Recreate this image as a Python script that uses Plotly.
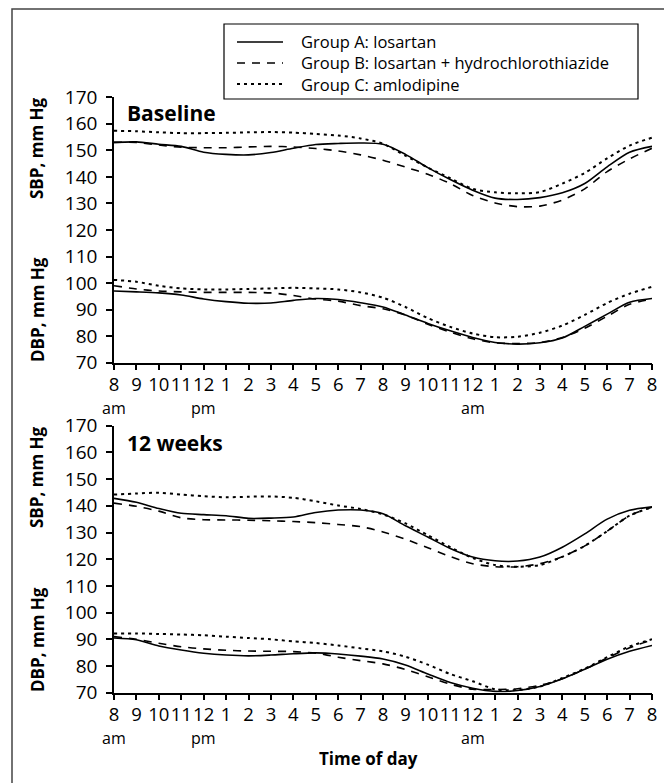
import plotly.graph_objects as go

# ---- data (hours after 8 am) ----
hours = list(range(25))
tick_labels = ["8", "9", "10", "11", "12", "1", "2", "3", "4", "5", "6", "7",
               "8", "9", "10", "11", "12", "1", "2", "3", "4", "5", "6", "7", "8"]
ampm_hours = [0, 4, 16]
ampm_text = ["am", "pm", "am"]

groups = ["Group A: losartan",
          "Group B: losartan + hydrochlorothiazide",
          "Group C: amlodipine"]

# Baseline
base_sbp_a = [153, 153.2, 152.3, 151.5, 149.3, 148.5, 148.3, 149.2, 150.8, 152.2, 152.6, 152.8, 152.3,
              148.5, 143.5, 139, 135, 132, 131.5, 132.2, 134, 137.5, 143.8, 149.3, 151.5]
base_sbp_b = [153, 153, 152, 151.2, 151, 151, 151.3, 151.5, 151.3, 150.7, 149.8, 148.3, 146.3,
              143.7, 141, 137.5, 133, 130.2, 128.8, 129, 131.3, 135.5, 142, 146.8, 150.8]
base_sbp_c = [157.4, 157.2, 156.8, 156.5, 156.5, 156.6, 156.8, 156.9, 156.7, 156.2, 155.6, 154.5, 152.5,
              148, 143.5, 139.5, 135.5, 134.2, 133.8, 134.3, 137.5, 141.5, 147, 151.8, 154.8]
base_dbp_a = [97, 96.7, 96.3, 95.5, 94, 93, 92.4, 92.5, 93.5, 94.2, 93.8, 92.6, 91,
              88, 84.8, 82, 79.5, 77.6, 77, 77.5, 79.3, 83.7, 88.3, 92.8, 94.2]
base_dbp_b = [99, 97.8, 97, 96.7, 96.5, 96.5, 96.5, 96.3, 95.3, 94, 93.2, 91.5, 90.3,
              88, 84.5, 81.5, 79, 77.5, 77.2, 77.6, 79.5, 83, 87.5, 92, 94]
base_dbp_c = [101.2, 100.5, 99, 98, 97.6, 97.6, 97.8, 98, 98.2, 98, 97.6, 96.5, 94.5,
              91, 86.8, 83.5, 81, 79.6, 79.8, 81.3, 84, 88, 92.5, 96, 98.6]

# 12 weeks
wk12_sbp_a = [142.8, 141.3, 139, 137.2, 136.7, 136.3, 135.3, 135.4, 135.8, 137.5, 138.4, 138.4, 137,
              132.5, 128.3, 124, 120.8, 119.4, 119.3, 120.8, 124.5, 129.5, 135, 138.3, 139.6]
wk12_sbp_b = [141, 139.8, 138, 135.5, 134.8, 134.7, 134.6, 134.4, 134.1, 133.7, 133, 132.2, 130.2,
              127.5, 124.3, 121, 118.3, 117.2, 117.2, 118.3, 120.9, 125, 130.5, 136.3, 139.5]
wk12_sbp_c = [144.2, 144.6, 144.9, 144.2, 143.6, 143.2, 143.4, 143.5, 143, 141.7, 140.1, 138.8, 136.8,
              133.4, 129, 124.5, 120.5, 117.8, 117.2, 117.8, 120.9, 125, 130.5, 136.3, 139.5]
wk12_dbp_a = [90.5, 89.8, 87.5, 86, 84.8, 84.1, 83.8, 84.1, 84.6, 84.9, 84.5, 83.7, 82.6,
              80.4, 77, 73.8, 71.7, 70.5, 70.8, 72.3, 75.2, 78.8, 82.5, 85.5, 87.7]
wk12_dbp_b = [91, 90, 88.5, 87.2, 86.4, 85.9, 85.6, 85.5, 85.4, 84.8, 83.3, 82, 80.8,
              78.7, 76, 73.2, 71.3, 71.2, 71.5, 72.8, 75.2, 78.8, 83, 86.8, 89.8]
wk12_dbp_c = [92.2, 92.2, 92, 91.8, 91.5, 91, 90.5, 90, 89.2, 88.6, 87.7, 86.6, 85.5,
              83.5, 80.5, 77, 74.3, 71.3, 71, 72.3, 75.5, 79, 83.3, 87.3, 90]

# ---- layout geometry ----
# The page body has an 8px margin, so the figure is drawn 8px smaller and all
# target positions below are given in window pixels and shifted by OFF.
OFF = 8
WIN_W, WIN_H = 672, 783
W, H = WIN_W - OFF, WIN_H - OFF
PLOT_L, PLOT_R, PAPER_T, PAPER_B = 114, 652, 9, 775   # window pixels
ML, MR = PLOT_L - OFF, W - (PLOT_R - OFF)
MT, MB = PAPER_T - OFF, H - (PAPER_B - OFF)
PW, PH = W - ML - MR, H - MT - MB


def px(x):
    return (x - PLOT_L) / PW


def py(y):
    return (PAPER_B - y) / PH


FONT = "Open Sans"
styles = [dict(color="black", width=1.6, dash="solid"),
          dict(color="black", width=1.6, dash="8px,7px"),
          dict(color="black", width=2.0, dash="3px,4px")]

fig = go.Figure()
panels = [("x", "y", [base_sbp_a, base_sbp_b, base_sbp_c], [base_dbp_a, base_dbp_b, base_dbp_c]),
          ("x2", "y2", [wk12_sbp_a, wk12_sbp_b, wk12_sbp_c], [wk12_dbp_a, wk12_dbp_b, wk12_dbp_c])]
for pi, (xa, ya, sbp, dbp) in enumerate(panels):
    for gi in range(3):
        for si, series in enumerate((sbp[gi], dbp[gi])):
            fig.add_trace(go.Scatter(
                x=hours, y=series, mode="lines", xaxis=xa, yaxis=ya,
                line=dict(shape="spline", smoothing=0.8, **styles[gi]),
                name=groups[gi], showlegend=False))

axis_common = dict(showline=True, linecolor="black", linewidth=1.5, showgrid=False,
                   zeroline=False, ticks="outside", ticklen=6, tickwidth=1.5,
                   tickcolor="black", automargin=False,
                   tickfont=dict(family=FONT, size=19, color="black"))
xcommon = dict(axis_common, range=[0, 24], tickmode="array", tickvals=hours,
               ticktext=tick_labels, ticklabelstandoff=-2, tickangle=0,
               tickfont=dict(family=FONT, size=18.5, color="black"))
ycommon = dict(axis_common, range=[70, 170], tickmode="array",
               tickvals=list(range(70, 171, 10)), ticklabelstandoff=5)

top_dom = [py(362.7), py(97.3)]
bot_dom = [py(692.7), py(425.7)]

fig.update_layout(
    width=W, height=H, margin=dict(l=ML, r=MR, t=MT, b=MB),
    paper_bgcolor="white", plot_bgcolor="white",
    font=dict(family=FONT, color="black"),
    xaxis=dict(xcommon, domain=[0, 1], anchor="y"),
    yaxis=dict(ycommon, domain=top_dom, anchor="x"),
    xaxis2=dict(xcommon, domain=[0, 1], anchor="y2"),
    yaxis2=dict(ycommon, domain=bot_dom, anchor="x2"),
    showlegend=False,
)

ann = []
# y-axis titles
for text, yc in [("SBP, mm Hg", 148), ("DBP, mm Hg", 310), ("SBP, mm Hg", 477), ("DBP, mm Hg", 640)]:
    ann.append(dict(text=f"<b>{text}</b>", x=px(37), y=py(yc), xref="paper", yref="paper",
                    xanchor="center", yanchor="middle",
                    textangle=-90, showarrow=False, font=dict(family=FONT, size=17)))
# panel titles
ann.append(dict(text="<b>Baseline</b>", x=px(125), y=py(113), xref="paper", yref="paper",
                xanchor="left", yanchor="middle", showarrow=False, font=dict(family=FONT, size=21)))
ann.append(dict(text="<b>12 weeks</b>", x=px(125), y=py(443), xref="paper", yref="paper",
                xanchor="left", yanchor="middle", showarrow=False, font=dict(family=FONT, size=21)))
# am / pm labels under the ticks
for xa, ypix in [("x", 408), ("x2", 738)]:
    for h, t in zip(ampm_hours, ampm_text):
        ann.append(dict(text=t, x=h, y=py(ypix), xref=xa, yref="paper", showarrow=False,
                        xanchor="center", yanchor="middle", font=dict(family=FONT, size=16)))
ann.append(dict(text="<b>Time of day</b>", x=px(368), y=py(758), xref="paper", yref="paper",
                xanchor="center", yanchor="middle", showarrow=False, font=dict(family=FONT, size=17)))

# legend (drawn manually to match the boxed key)
legend_rows = [42, 63, 84]
shapes = [dict(type="rect", xref="paper", yref="paper", x0=px(224), x1=px(638),
               y0=py(99), y1=py(24), line=dict(color="black", width=1.2),
               fillcolor="white", layer="above")]
for gi, yrow in enumerate(legend_rows):
    shapes.append(dict(type="line", xref="paper", yref="paper", x0=px(237), x1=px(283),
                       y0=py(yrow), y1=py(yrow), layer="above",
                       line=dict(color="black", width=styles[gi]["width"], dash=styles[gi]["dash"])))
ann.append(dict(text="<br>".join(groups), x=px(299), y=py(sum(legend_rows) / 3),
                xref="paper", yref="paper", xanchor="left", yanchor="middle", align="left",
                showarrow=False, font=dict(family=FONT, size=16.5)))
# outer frame
shapes.append(dict(type="rect", xref="paper", yref="paper",
                   x0=px(12), x1=px(667), y0=py(800), y1=py(9),
                   line=dict(color="#444", width=1.5), fillcolor="rgba(0,0,0,0)", layer="below"))

fig.update_layout(annotations=ann, shapes=shapes)
fig.write_html("out.html")
